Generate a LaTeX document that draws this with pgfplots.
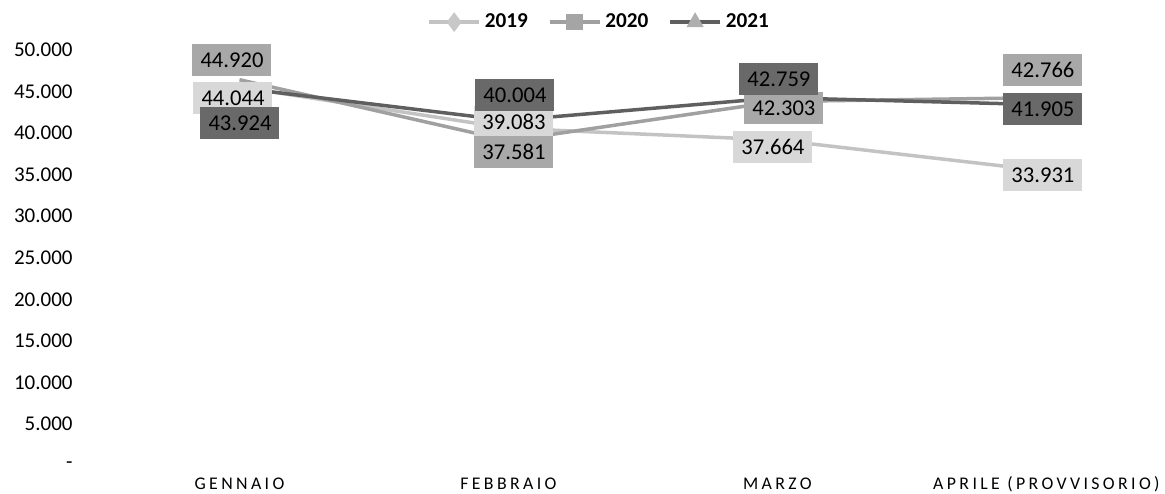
\documentclass[border=0pt]{standalone}
\usepackage{fontspec}
\setmainfont{Carlito}
\newfontfamily\spaced[LetterSpace=19]{Carlito}
\usepackage{pgfplots}
\pgfplotsset{compat=1.18}
\definecolor{l19}{RGB}{195,195,195}
\definecolor{l20}{RGB}{160,160,160}
\definecolor{l21}{RGB}{95,95,95}
\definecolor{f19}{RGB}{216,216,216}
\definecolor{f20}{RGB}{168,168,168}
\definecolor{f21}{RGB}{105,105,105}
\definecolor{m19}{RGB}{200,200,200}
\definecolor{m20}{RGB}{165,165,165}
\definecolor{m21}{RGB}{175,175,175}
\begin{document}
\begin{tikzpicture}
\useasboundingbox (0,0) rectangle (582.5pt,246.5pt);
\begin{axis}[
  at={(52.5pt,20pt)}, anchor=south west,
  scale only axis, width=524.5pt, height=207.75pt,
  xmin=-0.5, xmax=3.4, ymin=0, ymax=50000,
  clip=false, scaled y ticks=false,
  axis line style={draw=none}, major tick length=0pt,
  xtick={0,1,2,3},
  xticklabels={GENNAIO,FEBBRAIO,MARZO,APRILE (PROVVISORIO)},
  xticklabel style={font={\spaced\fontsize{8.9}{10}\selectfont}, anchor=base, yshift=-18pt, inner sep=0pt},
  ytick={0,5000,10000,15000,20000,25000,30000,35000,40000,45000,50000},
  yticklabels={{-\hspace{4.5pt}},5.000,10.000,15.000,20.000,25.000,30.000,35.000,40.000,45.000,50.000},
  yticklabel style={font={\fontsize{10.5}{12}\selectfont}, anchor=east, inner sep=0pt, xshift=-16pt, yshift=-6.25pt},
  legend style={at={(0.472,1.037)}, anchor=center, draw=none, fill=none, legend columns=3,
    font={\bfseries\fontsize{10.6}{12}\selectfont}, /tikz/every even column/.append style={column sep=8pt}},
  legend image code/.code={\draw[mark repeat=2,mark phase=2,#1] plot coordinates {(0pt,0pt)(12.5pt,0pt)(25pt,0pt)};},
  every node near coord/.style={anchor=center, xshift=\dx pt, yshift=\dy pt, minimum width=39.5pt, minimum height=16pt, inner sep=0pt, font={\fontsize{11.3}{13}\selectfont}, text=black},
]
\addplot[l19, line width=1.75pt, mark=none, legend image post style={mark=diamond*, mark size=3.5pt, mark options={fill=m19, draw=m19, solid}}]
  table[row sep=\\]{x y\\ 0 44044\\ 1 39083\\ 2 37664\\ 3 33931\\};
\addlegendentry{2019}
\addplot[l20, line width=1.75pt, mark=none, legend image post style={mark=square*, mark size=3.2pt, mark options={fill=m20, draw=m20, solid}}]
  table[row sep=\\]{x y\\ 0 44920\\ 1 37581\\ 2 42303\\ 3 42766\\};
\addlegendentry{2020}
\addplot[l21, line width=1.75pt, mark=none, legend image post style={mark=triangle*, mark size=3.2pt, mark options={fill=m21, draw=m21, solid}}]
  table[row sep=\\]{x y\\ 0 43924\\ 1 40004\\ 2 42759\\ 3 41905\\};
\addlegendentry{2021}

\addplot[draw=none, mark=none, forget plot, nodes near coords={\pgfplotspointmeta}, point meta=explicit symbolic,
  visualization depends on={value \thisrow{dx} \as \dx},
  visualization depends on={value \thisrow{dy} \as \dy},
  nodes near coords style={fill=f19}]
  table[row sep=\\, meta=lab]{x y dx dy lab\\ 0 44044 -3.25 -5.5 44.044\\ 1 39083 2.75 3.1 39.083\\ 2 37664 -2.25 -3.5 37.664\\ 3 33931 -1.75 -2 33.931\\};
\addplot[draw=none, mark=none, forget plot, nodes near coords={\pgfplotspointmeta}, point meta=explicit symbolic,
  visualization depends on={value \thisrow{dx} \as \dx},
  visualization depends on={value \thisrow{dy} \as \dy},
  nodes near coords style={fill=f20}]
  table[row sep=\\, meta=lab]{x y dx dy lab\\ 0 44920 -3.75 9.85 44.920\\ 1 37581 2.75 -5.65 37.581\\ 2 42303 3.25 -3.25 42.303\\ 3 42766 -1.75 13.8 42.766\\};
\addplot[draw=none, mark=none, forget plot, nodes near coords={\pgfplotspointmeta}, point meta=explicit symbolic,
  visualization depends on={value \thisrow{dx} \as \dx},
  visualization depends on={value \thisrow{dy} \as \dy},
  nodes near coords style={fill=f21}]
  table[row sep=\\, meta=lab]{x y dx dy lab\\ 0 43924 0.25 -17.5 43.924\\ 1 40004 3.25 12.8 40.004\\ 2 42759 0.75 9.35 42.759\\ 3 41905 -1.75 -2.1 41.905\\};
\end{axis}
\end{tikzpicture}
\end{document}
